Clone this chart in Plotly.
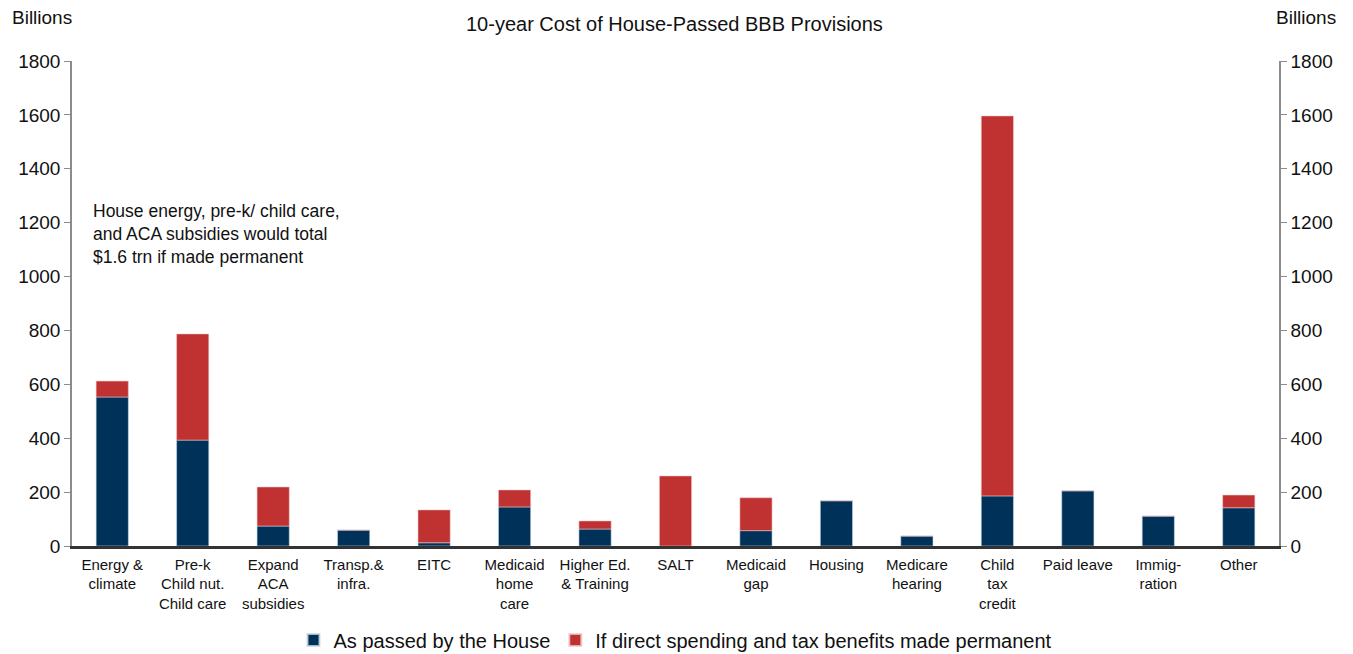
import plotly.graph_objects as go

categories = ["Energy &<br>climate", "Pre-k<br>Child nut.<br>Child care", "Expand<br>ACA<br>subsidies",
              "Transp.&<br>infra.", "EITC", "Medicaid<br>home<br>care", "Higher Ed.<br>& Training",
              "SALT", "Medicaid<br>gap", "Housing", "Medicare<br>hearing", "Child<br>tax<br>credit",
              "Paid leave", "Immig-<br>ration", "Other"]
as_passed = [553, 393, 74, 59, 12, 145, 63, -5, 57, 168, 37, 186, 205, 111, 142]
permanent_extra = [59, 394, 145, 0, 122, 63, 30, 260, 122, 0, 0, 1410, 0, 0, 47]
y_ticks = [0, 200, 400, 600, 800, 1000, 1200, 1400, 1600, 1800]

navy = "#003259"
red = "#C03232"
font = "Liberation Sans, Arial, sans-serif"

fig = go.Figure()
fig.add_trace(go.Bar(x=categories, y=as_passed, name="As passed by the House",
                     marker=dict(color=navy, line=dict(color="rgba(200,215,230,0.8)", width=0.7)),
                     width=0.4))
fig.add_trace(go.Bar(x=categories, y=permanent_extra, name="If direct spending and tax benefits made permanent",
                     marker=dict(color=red, line=dict(color="rgba(240,200,200,0.8)", width=0.7)),
                     width=0.4))
# invisible trace for right axis
fig.add_trace(go.Scatter(x=[categories[0]], y=[0], yaxis="y2", mode="markers",
                         marker=dict(opacity=0), showlegend=False, hoverinfo="skip"))

axis_common = dict(range=[0, 1800], tickvals=y_ticks, ticks="outside", ticklen=6,
                   tickcolor="#8c8c8c", showline=True, linecolor="#8c8c8c", linewidth=1.5,
                   showgrid=False, zeroline=False, automargin=False,
                   tickfont=dict(size=19, color="#111", family=font))

fig.update_layout(
    barmode="relative",
    width=1353, height=654,
    margin=dict(l=64, r=82, t=53, b=116),
    plot_bgcolor="white", paper_bgcolor="white",
    font=dict(family=font, color="#111"),
    xaxis=dict(showline=True, linecolor="#333", linewidth=2.5, ticks="", showgrid=False,
               range=[-0.5, len(categories) - 0.5], ticklabelstandoff=3,
               automargin=False, tickfont=dict(size=15, family=font, color="#111")),
    yaxis=dict(**axis_common),
    yaxis2=dict(**axis_common, overlaying="y", side="right", matches="y"),
    legend=dict(orientation="h", x=0.5, xanchor="center", xref="paper",
                yref="container", y=0.0336, yanchor="middle",
                font=dict(size=20, family=font, color="#111"), itemwidth=30,
                traceorder="normal", itemsizing="constant"),
    annotations=[
        dict(text="10-year Cost of House-Passed BBB Provisions", xref="paper", yref="paper",
             x=0.4988, y=1.076, xanchor="center", yanchor="middle", showarrow=False,
             font=dict(size=20, family=font, color="#111")),
        dict(text="Billions", xref="paper", yref="paper", x=-0.051, y=1.089, xanchor="left",
             yanchor="middle", showarrow=False, font=dict(size=19, family=font, color="#111")),
        dict(text="Billions", xref="paper", yref="paper", x=1.049, y=1.089, xanchor="right",
             yanchor="middle", showarrow=False, font=dict(size=19, family=font, color="#111")),
        dict(text="House energy, pre-k/ child care,<br>and ACA subsidies would total<br>$1.6 trn if made permanent",
             xref="paper", yref="paper", x=0.0155, y=0.643, xanchor="left", yanchor="middle",
             align="left", showarrow=False, font=dict(size=17.5, family=font, color="#111")),
    ],
)

fig.write_html("out.html")
